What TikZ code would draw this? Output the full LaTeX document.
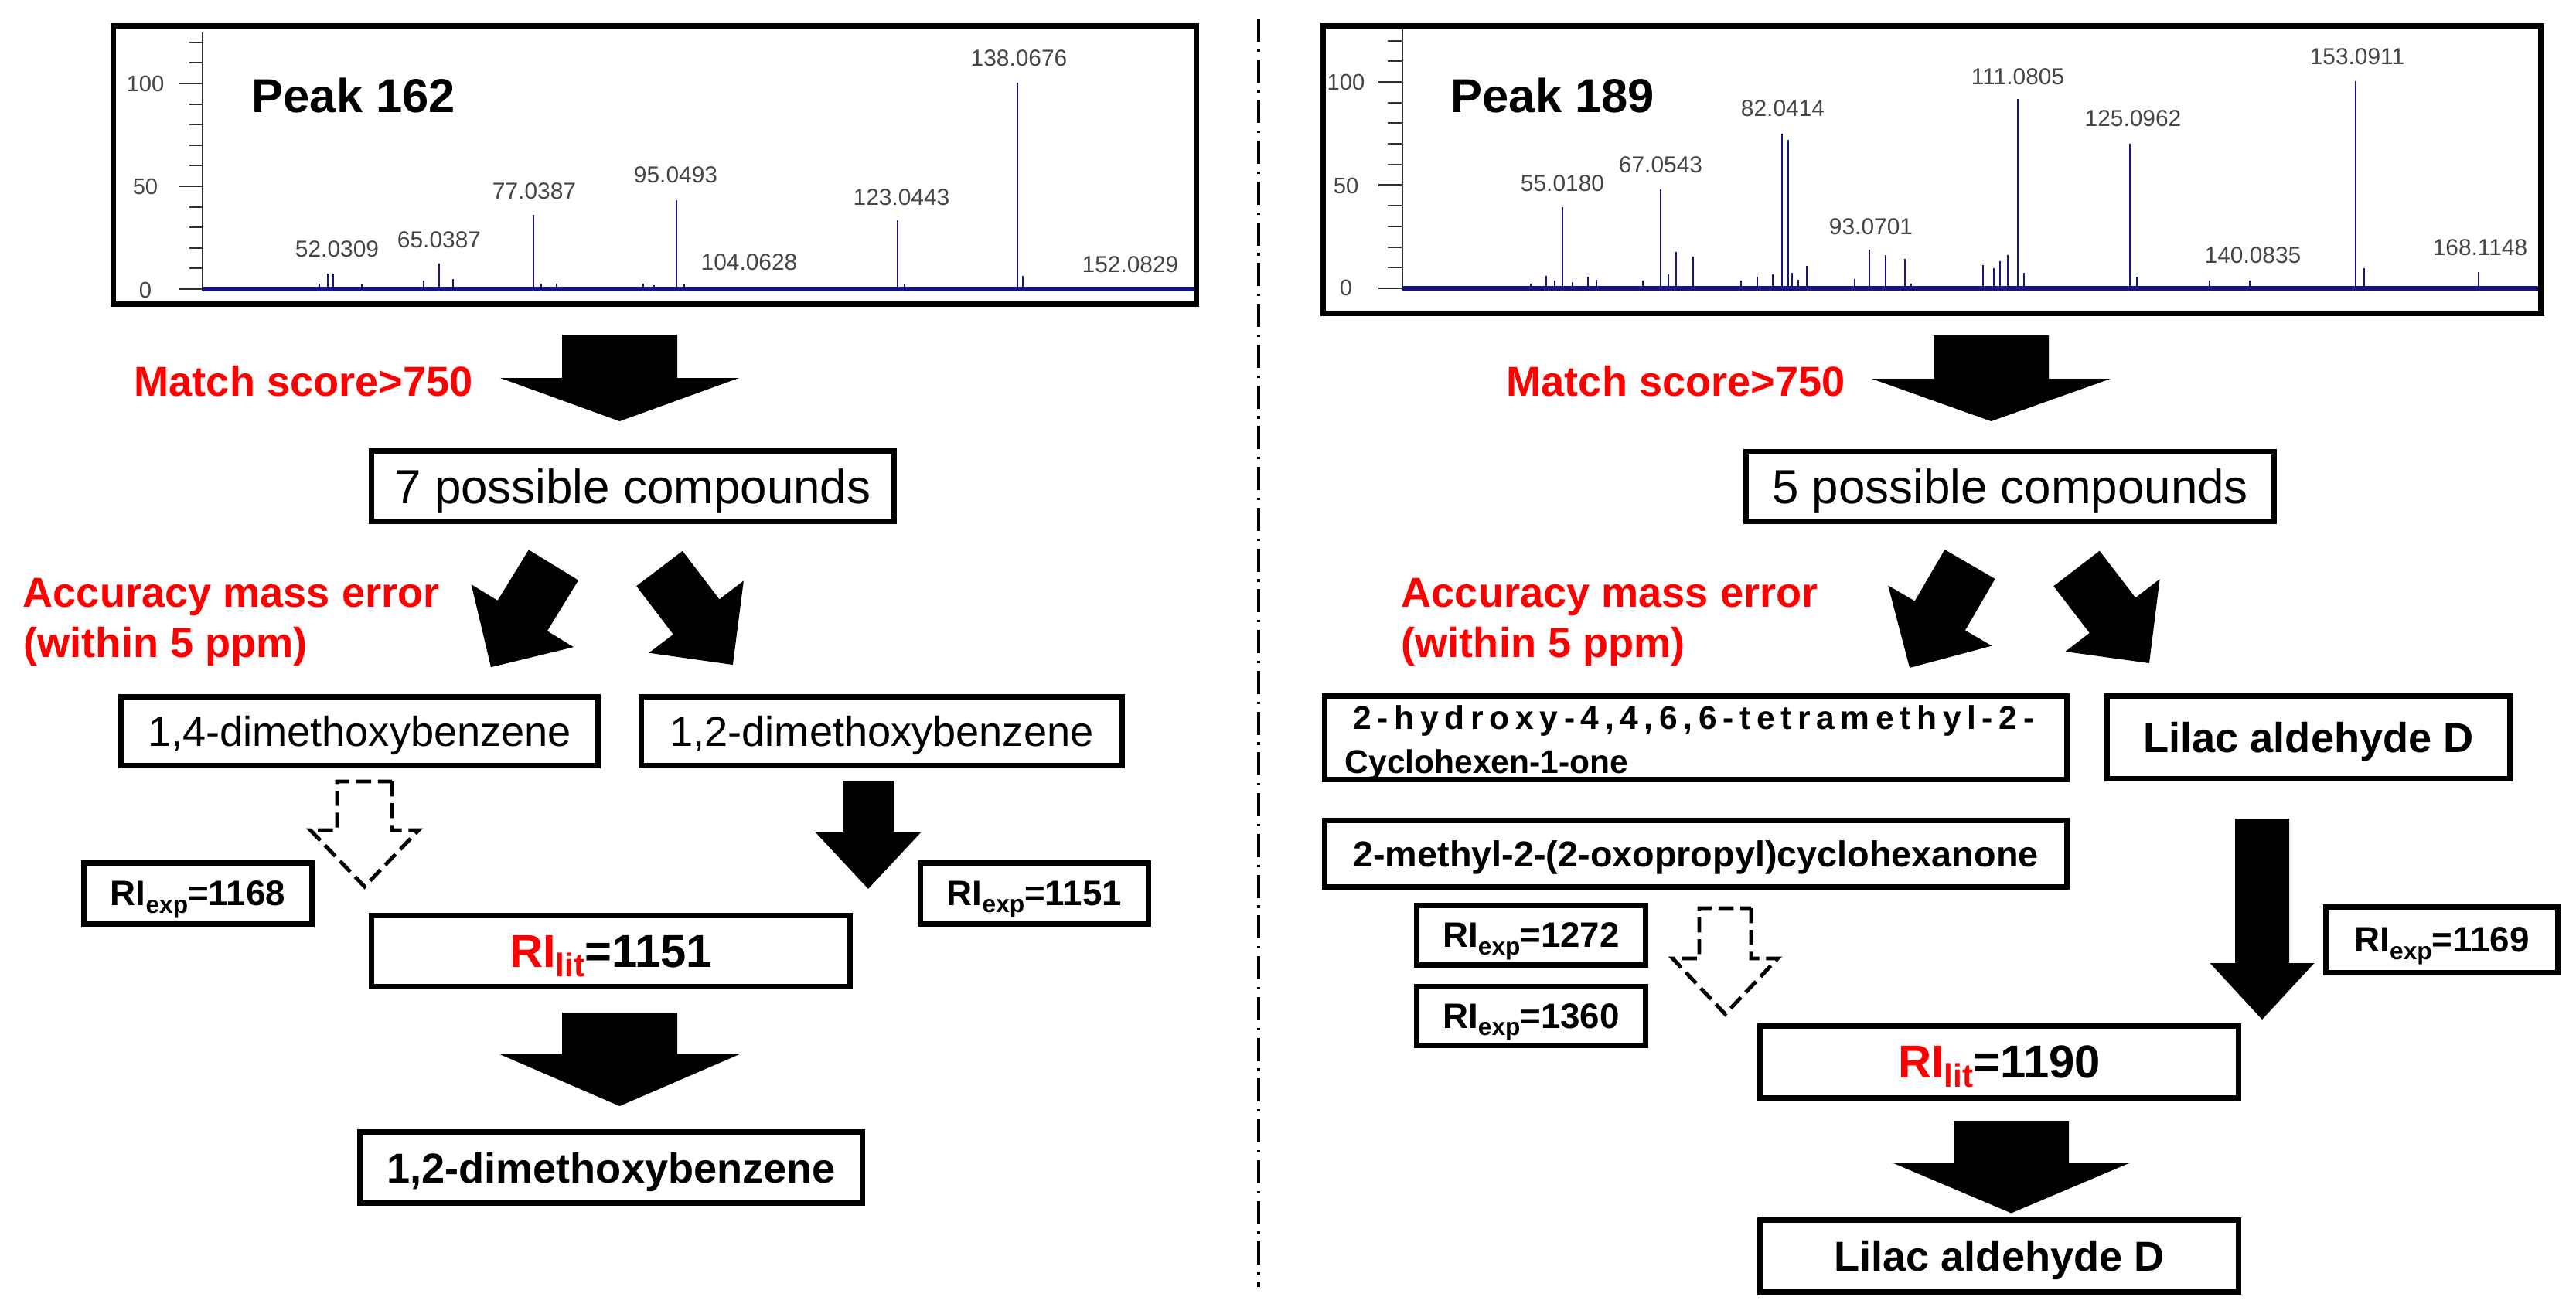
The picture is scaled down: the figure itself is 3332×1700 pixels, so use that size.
\documentclass[tikz,border=0pt]{standalone}
\usepackage{fontspec}
\setmainfont{Liberation Sans}
\newfontfamily\lsfont[LetterSpace=18]{Liberation Sans}
\definecolor{specblue}{RGB}{20,20,130}
\definecolor{labgray}{RGB}{70,70,70}
\newcommand{\rsub}[2]{\raisebox{-0.2em}{\fontsize{#1}{#1}\selectfont #2}}
% #1 style, #2 x, #3 y (tail centre), #4 angle, #5 length, #6 shaft half width, #7 head half width, #8 head length
\newcommand{\blockarrow}[8]{%
  \begin{scope}[shift={(#2,#3)},rotate=#4]
    \pgfmathsetmacro{\bahb}{#5-#8}
    \path[#1] (0,-#6) -- (\bahb,-#6) -- (\bahb,-#7) -- (#5,0) -- (\bahb,#7) -- (\bahb,#6) -- (0,#6) -- cycle;
  \end{scope}}
\begin{document}
\begin{tikzpicture}[x=0.01cm,y=-0.01cm]
\tikzset{
  box/.style={draw=black, line width=2pt, fill=white, inner sep=0pt, text depth=0pt},
  redlab/.style={text=red, font=\bfseries\fontsize{15.4pt}{18pt}\selectfont, inner sep=0pt, anchor=base west},
  plabel/.style={text=labgray, font=\fontsize{8.5pt}{10pt}\selectfont, inner sep=0pt},
  ticklab/.style={text=labgray, font=\fontsize{8.3pt}{10pt}\selectfont, inner sep=0pt},
  peaktitle/.style={font=\bfseries\fontsize{17.5pt}{21pt}\selectfont, inner sep=0pt, anchor=base west},
  peak/.style={draw=specblue, line width=0.6pt},
  solidarrow/.style={fill=black},
  hollowarrow/.style={draw=black, fill=white, line width=1.4pt, dash pattern=on 5.5pt off 2.5pt},
  cmpreg/.style={font=\fontsize{15.4pt}{18pt}\selectfont},
  cmpbold/.style={font=\bfseries\fontsize{15.4pt}{18pt}\selectfont},
  possible/.style={font=\fontsize{17.6pt}{20pt}\selectfont},
  riexp/.style={font=\bfseries\fontsize{13pt}{15pt}\selectfont},
  rilit/.style={font=\bfseries\fontsize{17pt}{20pt}\selectfont},
}
\useasboundingbox (0,0) rectangle (3332,1700);
\fill[white] (0,0) rectangle (3332,1700);

% separator
\draw[line width=1.1pt, dash pattern=on 8.5pt off 2.8pt on 0.9pt off 2.8pt] (1628,24) -- (1628,1665);

% ---------------- left spectrum ----------------
\node[box, minimum width=14.01cm, minimum height=3.60cm] (spec1) at (847,213.5) {};
\draw[line width=0.6pt, black!80] (262,42) -- (262,376);
\foreach \i in {0,...,12} \draw[line width=0.6pt, black!80] (245,{374-\i*26.6}) -- (262,{374-\i*26.6});
\foreach \i in {0,5,10} \draw[line width=0.6pt, black!80] (232,{374-\i*26.6}) -- (262,{374-\i*26.6});
\node[ticklab] (t1a) at (188,108) {100};
\node[ticklab] (t1b) at (188,241) {50};
\node[ticklab] (t1c) at (188,375) {0};
\foreach \px/\pt in {413/367, 424/354, 431/354, 468/368, 548/363, 568/341, 586/361, 690/278, 700/367, 720/367, 832/367, 846/369, 875/259, 885/368, 1161/285, 1170/368, 1316/107, 1323/357}
  \draw[peak] (\px,374) -- (\px,\pt);
\draw[specblue, line width=1.6pt] (262,374) -- (1545,374);
\foreach \lx/\ly/\lt in {436/322/52.0309, 568/310/65.0387, 691/247/77.0387, 874/226/95.0493, 969/339/104.0628, 1166/255/123.0443, 1318/75/138.0676, 1462/342/152.0829}
  \node[plabel] (pl\lx) at (\lx,\ly) {\lt};
\node[peaktitle] (pk1) at (325,146) {Peak 162};

% ---------------- right spectrum ----------------
\node[box, minimum width=15.75cm, minimum height=3.72cm] (spec2) at (2499,219.5) {};
\draw[line width=0.6pt, black!80] (1814,38) -- (1814,375);
\foreach \i in {0,...,12} \draw[line width=0.6pt, black!80] (1795,{373-\i*26.7}) -- (1814,{373-\i*26.7});
\foreach \i in {0,5,10} \draw[line width=0.6pt, black!80] (1783,{373-\i*26.7}) -- (1814,{373-\i*26.7});
\node[ticklab] (t2a) at (1741,106) {100};
\node[ticklab] (t2b) at (1741,240) {50};
\node[ticklab] (t2c) at (1741,372) {0};
\foreach \px/\pt in {1980/367, 2000/357, 2011/363, 2021/268, 2034/365, 2054/358, 2065/362, 2125/363, 2148/245, 2158/355, 2168/326, 2190/332, 2252/363, 2273/358, 2293/355, 2305/173, 2313/181, 2318/353, 2326/362, 2337/344, 2399/361, 2418/323, 2439/330, 2464/335, 2472/367, 2565/343, 2579/347, 2587/338, 2597/330, 2610/128, 2618/353, 2755/186, 2764/358, 2858/363, 2910/363, 3047/105, 3058/347, 3206/352}
  \draw[peak] (\px,373) -- (\px,\pt);
\draw[specblue, line width=1.6pt] (1814,373) -- (3283,373);
\foreach \lx/\ly/\lt in {2021/237/55.0180, 2148/213/67.0543, 2306/140/82.0414, 2420/293/93.0701, 2610/99/111.0805, 2759/153/125.0962, 2914/330/140.0835, 3049/73/153.0911, 3208/320/168.1148}
  \node[plabel] (pr\lx) at (\lx,\ly) {\lt};
\node[peaktitle] (pk2) at (1876,146) {Peak 189};

% ---------------- left flow ----------------
\blockarrow{solidarrow}{801.5}{433}{-90}{112}{74.5}{154.5}{56}
\node[redlab] (ms1) at (173,512) {Match score>750};
\node[box, possible, minimum width=6.76cm, minimum height=0.91cm] (c7) at (818.5,629) {7 possible compounds};
\node[redlab] (ac1) at (29,785) {Accuracy mass error};
\node[redlab] (wi1) at (30,850) {(within 5 ppm)};
\blockarrow{solidarrow}{716}{731}{-121.5}{155}{37.7}{77.6}{78}
\blockarrow{solidarrow}{853}{735.5}{-52.7}{156.6}{37.5}{77}{78}
\node[box, cmpreg, minimum width=6.17cm, minimum height=0.89cm] (b14) at (465,946) {1,4-dimethoxybenzene};
\node[box, cmpreg, minimum width=6.22cm, minimum height=0.89cm] (b12) at (1140.5,946) {1,2-dimethoxybenzene};
\blockarrow{hollowarrow}{471.5}{1011}{-90}{136}{35.5}{70}{73}
\blockarrow{solidarrow}{1123}{1010}{-90}{140}{33}{69}{74}
\node[box, riexp, minimum width=2.95cm, minimum height=0.79cm] (r1168) at (256,1156) {RI\rsub{9pt}{exp}=1168};
\node[box, riexp, minimum width=2.95cm, minimum height=0.79cm] (r1151) at (1338,1156) {RI\rsub{9pt}{exp}=1151};
\node[box, rilit, minimum width=6.19cm, minimum height=0.92cm] (l1151) at (790,1230.5) {\textcolor{red}{RI\rsub{12pt}{lit}}=1151};
\blockarrow{solidarrow}{801.5}{1310}{-90}{121}{74.5}{155}{67}
\node[box, cmpbold, minimum width=6.50cm, minimum height=0.92cm] (f12) at (790.5,1510.5) {1,2-dimethoxybenzene};

% ---------------- right flow ----------------
\blockarrow{solidarrow}{2575.5}{434}{-90}{111}{74.5}{154.5}{55}
\node[redlab] (ms2) at (1948,512) {Match score>750};
\node[box, possible, minimum width=6.83cm, minimum height=0.90cm] (c5) at (2600,629.5) {5 possible compounds};
\node[redlab] (ac2) at (1812,785) {Accuracy mass error};
\node[redlab] (wi2) at (1812,850) {(within 5 ppm)};
\blockarrow{solidarrow}{2548}{730}{-120.2}{155}{37.7}{77.6}{78}
\blockarrow{solidarrow}{2686}{735.5}{-52.5}{154.4}{37.5}{77}{78}
\node[box, minimum width=9.60cm, minimum height=1.08cm] (hyd) at (2193.5,954.5) {};
\node[anchor=base west, inner sep=0pt, font=\lsfont\bfseries\fontsize{12.1pt}{14pt}\selectfont] (hyd1) at (1750,943) {2-hydroxy-4,4,6,6-tetramethyl-2-};
\node[anchor=base west, inner sep=0pt, font=\bfseries\fontsize{12.1pt}{14pt}\selectfont] (hyd2) at (1739,1000) {Cyclohexen-1-one};
\node[box, cmpbold, minimum width=5.21cm, minimum height=1.07cm] (lil1) at (2986,954) {Lilac aldehyde D};
\node[box, font=\bfseries\fontsize{13.3pt}{15pt}\selectfont, minimum width=9.60cm, minimum height=0.86cm] (met) at (2193.5,1104.5) {2-methyl-2-(2-oxopropyl)cyclohexanone};
\node[box, riexp, minimum width=2.96cm, minimum height=0.77cm] (r1272) at (1980.5,1210) {RI\rsub{9pt}{exp}=1272};
\node[box, riexp, minimum width=2.96cm, minimum height=0.76cm] (r1360) at (1980.5,1314.5) {RI\rsub{9pt}{exp}=1360};
\blockarrow{hollowarrow}{2231.5}{1175}{-90}{137}{33.5}{68}{72}
\blockarrow{solidarrow}{2926}{1059}{-90}{260}{35}{67.5}{73}
\node[box, riexp, minimum width=3.00cm, minimum height=0.85cm] (r1169) at (3158.5,1216) {RI\rsub{9pt}{exp}=1169};
\node[box, rilit, minimum width=6.19cm, minimum height=0.93cm] (l1190) at (2586,1374) {\textcolor{red}{RI\rsub{12pt}{lit}}=1190};
\blockarrow{solidarrow}{2601.5}{1450}{-90}{119.5}{74.5}{154.5}{65.5}
\node[box, cmpbold, minimum width=6.19cm, minimum height=0.93cm] (lil2) at (2586,1625) {Lilac aldehyde D};
\end{tikzpicture}
\end{document}
